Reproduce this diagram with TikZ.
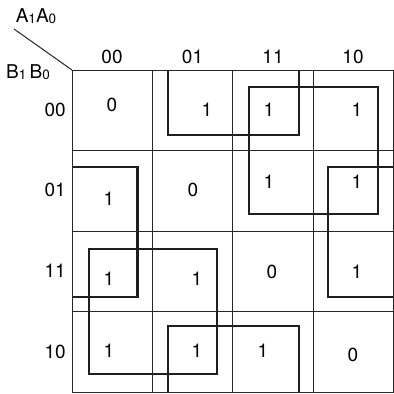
\documentclass[tikz,border=0pt]{standalone}
\usepackage{fontspec}
\setmainfont{TeX Gyre Heros}
\usetikzlibrary{positioning}

\newcommand{\sub}[1]{\raisebox{-0.5pt}{\fontsize{13.5}{16}\selectfont #1}}

\begin{document}
\begin{tikzpicture}[x=1pt,y=-1pt]

\tikzstyle{grid}=[draw=black!85,line width=1pt]
\tikzstyle{loop}=[draw=black!88,line width=2.8pt,line join=miter]
\tikzstyle{val}=[inner sep=0pt,font=\fontsize{19}{22}\selectfont]
\tikzstyle{head}=[inner sep=0pt,font=\fontsize{19}{22}\selectfont]

\useasboundingbox (0,0) rectangle (394,394);

% map grid
\draw[grid] (72,70) rectangle (393,392);
\foreach \x in {152.5,232.5,313} \draw[grid] (\x,70) -- (\x,392);
\foreach \y in {150,231,311} \draw[grid] (72,\y) -- (393,\y);

% corner labels
\coordinate (corner) at (72,70);
\coordinate (tail) at (14,29);
\node (a1a0) [head] at (36,16) {A\sub{1}A\sub{0}};
\node (b1b0) [head] at (28,72) {B\sub{1}\,B\sub{0}};
\draw[grid] (tail) -- (corner);

% column labels
\node (c00) [head] at (112,57) {00};
\node (c01) [head] at (192.5,57) {01};
\node (c11) [head] at (273,57) {11};
\node (c10) [head] at (353,57) {10};

% row labels
\node (r00) [head,anchor=east] at (66,110) {00};
\node (r01) [head,anchor=east] at (66,190) {01};
\node (r11) [head,anchor=east] at (66,271) {11};
\node (r10) [head,anchor=east] at (66,352) {10};

% cells
\node (v00-00) [val] at (112,105) {0};
\node (v00-01) [val] at (207,110) {1};
\node (v00-11) [val] at (269,110) {1};
\node (v00-10) [val] at (357,110) {1};

\node (v01-00) [val] at (109,199) {1};
\node (v01-01) [val] at (193,190) {0};
\node (v01-11) [val] at (269,182) {1};
\node (v01-10) [val] at (357,182) {1};

\node (v11-00) [val] at (109,279) {1};
\node (v11-01) [val] at (197,279) {1};
\node (v11-11) [val] at (272,272) {0};
\node (v11-10) [val] at (357,272) {1};

\node (v10-00) [val] at (109,351) {1};
\node (v10-01) [val] at (197,351) {1};
\node (v10-11) [val] at (263,351) {1};
\node (v10-10) [val] at (353,355) {0};

% groups
\draw[loop] (168,70) -- (168,135) -- (299,135) -- (299,70);
\draw[loop] (168,392) -- (168,326) -- (299,326) -- (299,392);
\draw[loop] (249,87) rectangle (378,214);
\draw[loop] (393,167) -- (328,167) -- (328,297) -- (393,297);
\draw[loop] (72,167) -- (137.5,167) -- (137.5,297) -- (72,297);
\draw[loop] (89,249) rectangle (217,374);

\end{tikzpicture}
\end{document}
